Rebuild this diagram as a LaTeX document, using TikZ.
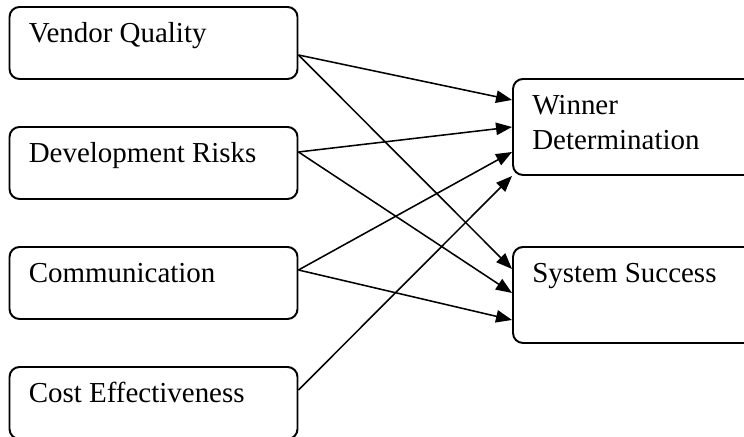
\documentclass[tikz,border=0pt]{standalone}
\usepackage{fontspec}
\setmainfont{Liberation Serif}
\usetikzlibrary{arrows.meta}

\tikzset{
    factor/.style={draw, line width=1.4pt, rounded corners=0.25cm,
        minimum width=7.2cm, minimum height=1.8cm, inner sep=0pt},
    outcome/.style={draw, line width=1.4pt, rounded corners=0.25cm,
        minimum width=6.2cm, minimum height=2.4cm, inner sep=0pt},
    boxtext/.style={anchor=base west, inner sep=0pt, align=left,
        font=\fontsize{20.6}{24.9}\selectfont},
    link/.style={line width=1.1pt, -{Triangle[length=4mm,width=3.1mm]}}
}

\begin{document}
\begin{tikzpicture}
            \useasboundingbox (0,0) rectangle (18.6,10.925);
            \clip (0,0) rectangle (18.6,10.925);

            \node[factor] (vq) at (3.8375,9.85) {};
            \node[factor] (dr) at (3.8375,6.85) {};
            \node[factor] (cm) at (3.8375,3.85) {};
            \node[factor] (ce) at (3.8375,0.85) {};
            \node[outcome] (wd) at (15.925,7.75) {};
            \node[outcome] (ss) at (15.925,3.55) {};

            \node[boxtext] (vqtext) at ([xshift=0.5cm,yshift=-0.9cm]vq.north west) {Vendor Quality};
            \node[boxtext] (drtext) at ([xshift=0.5cm,yshift=-0.9cm]dr.north west) {Development Risks};
            \node[boxtext] (cmtext) at ([xshift=0.5cm,yshift=-0.9cm]cm.north west) {Communication};
            \node[boxtext] (cetext) at ([xshift=0.5cm,yshift=-0.9cm]ce.north west) {Cost Effectiveness};
            \node[boxtext] (wdtext) at ([xshift=0.5cm,yshift=-1.775cm]wd.north west) {Winner\\Determination};
            \node[boxtext] (sstext) at ([xshift=0.5cm,yshift=-0.9cm]ss.north west) {System Success};

            % links to winner determination
            \draw[link] ([yshift=-0.3cm]vq.east) -- ([yshift=0.675cm]wd.west);
            \draw[link] ([yshift=0.275cm]dr.east) -- (wd.west);
            \draw[link] ([yshift=0.325cm]cm.east) -- ([yshift=-0.625cm]wd.west);
            \draw[link] ([yshift=0.325cm]ce.east) -- (wd.south west);

            % links to system success
            \draw[link] ([yshift=-0.3cm]vq.east) -- ([yshift=0.65cm]ss.west);
            \draw[link] ([yshift=0.275cm]dr.east) -- ([yshift=0.05cm]ss.west);
            \draw[link] ([yshift=0.325cm]cm.east) -- ([yshift=-0.625cm]ss.west);

        \end{tikzpicture}
\end{document}
